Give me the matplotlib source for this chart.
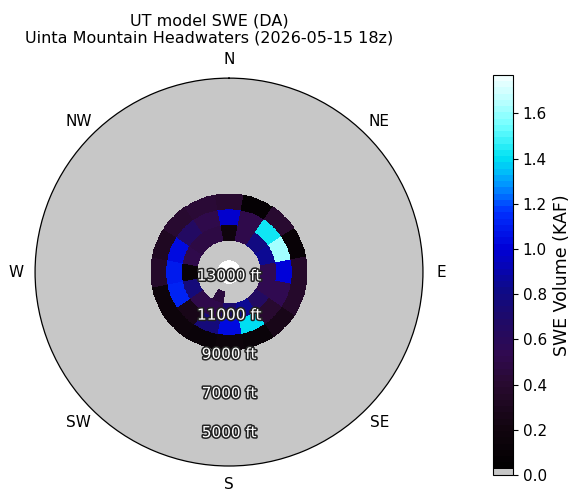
import matplotlib
matplotlib.use("Agg")
import matplotlib.pyplot as plt
import matplotlib.patheffects as pe
from matplotlib.colors import LinearSegmentedColormap, ListedColormap
import numpy as np

# aspect bins (16 compass points) and elevation bin edges (ft)
aspects = ['N', 'NNE', 'NE', 'ENE', 'E', 'ESE', 'SE', 'SSE',
           'S', 'SSW', 'SW', 'WSW', 'W', 'WNW', 'NW', 'NNW']
elev_edges = [3300, 9200, 10000, 10800, 11600, 12200, 12600]

# SWE volume (KAF), one row per elevation band, low to high
swe_3300 = [0.0] * 16
swe_9200 = [0.40, 0.08, 0.40, 0.10, 0.38, 0.38, 0.25, 0.12,
            0.15, 0.12, 0.15, 0.15, 0.38, 0.33, 0.40, 0.42]
swe_10000 = [0.98, 0.50, 1.42, 1.62, 1.02, 0.55, 0.40, 1.40,
             1.05, 0.75, 0.25, 1.12, 1.08, 1.05, 0.65, 0.50]
swe_10800 = [0.18, 0.50, 0.80, 0.85, 0.55, 0.55, 0.65, 0.85,
             0.70, 0.50, 0.50, 0.75, 0.10, 0.50, 0.48, 0.48]
swe_11600 = [0.0, 0.0, 0.0, 0.0, 0.0, 0.0, 0.0, 0.0,
             0.0, 0.45, 0.0, 0.0, 0.0, 0.0, 0.0, 0.0]
swe_12200 = [0.0] * 16

elev_ticks = [13000, 11000, 9000, 7000, 5000]
compass = ['N', 'NE', 'E', 'SE', 'S', 'SW', 'W', 'NW']
vmax = 1.77

swe = np.array([swe_3300, swe_9200, swe_10000, swe_10800, swe_11600, swe_12200])

# split every 22.5 deg sector into thin slices so cells follow the arcs
n_sub = 12
theta_edges = np.deg2rad(np.linspace(-11.25, 348.75, len(aspects) * n_sub + 1))
swe_fine = np.repeat(swe, n_sub, axis=1)

# colormap: grey for zero, then black -> purple -> navy -> blue -> cyan -> white
anchors = [(0.00, '#000000'), (0.11, '#12050f'), (0.22, '#280a30'),
           (0.30, '#300a50'), (0.38, '#200a66'), (0.46, '#0e0a88'),
           (0.57, '#0000d8'), (0.66, '#0030ff'), (0.73, '#0098ff'),
           (0.80, '#00e2f2'), (0.88, '#70ffff'), (0.94, '#b8ffff'),
           (1.00, '#f0ffff')]
base = LinearSegmentedColormap.from_list('swe', anchors)
cols = base(np.linspace(0, 1, 64))
cols[0] = [0.78, 0.78, 0.78, 1.0]
cmap = ListedColormap(cols)

fig = plt.figure(figsize=(5.77, 4.91), dpi=100)
ax = fig.add_axes([0.0607, 0.0509, 0.6724, 0.790], projection='polar')
ax.set_theta_zero_location('N')
ax.set_theta_direction(-1)

mesh = ax.pcolormesh(theta_edges, elev_edges, swe_fine, cmap=cmap,
                     vmin=0, vmax=vmax, shading='flat')
ax.set_ylim(13200, 3300)
ax.grid(False)
ax.set_yticks([])
ax.set_xticks(np.deg2rad(np.arange(0, 360, 45)))
ax.set_xticklabels(compass, fontsize=11)
ax.tick_params(axis='x', pad=3)
ax.spines['polar'].set_linewidth(0.9)

for e in elev_ticks:
    ax.text(np.pi, e, f'{e} ft', ha='center', va='center', fontsize=11,
            color='white',
            path_effects=[pe.withStroke(linewidth=2.2, foreground='#222222')])

fig.text(0.362, 0.940, 'UT model SWE (DA)\nUinta Mountain Headwaters (2026-05-15 18z)',
         ha='center', va='center', fontsize=11.5, linespacing=1.2)

cax = fig.add_axes([0.8544, 0.0326, 0.0347, 0.8147])
cb = fig.colorbar(mesh, cax=cax)
cb.set_ticks([0.0, 0.2, 0.4, 0.6, 0.8, 1.0, 1.2, 1.4, 1.6])
cb.ax.tick_params(labelsize=11)
cb.set_label('SWE Volume (KAF)', fontsize=12.5)

fig.savefig('out.png', dpi=100)
